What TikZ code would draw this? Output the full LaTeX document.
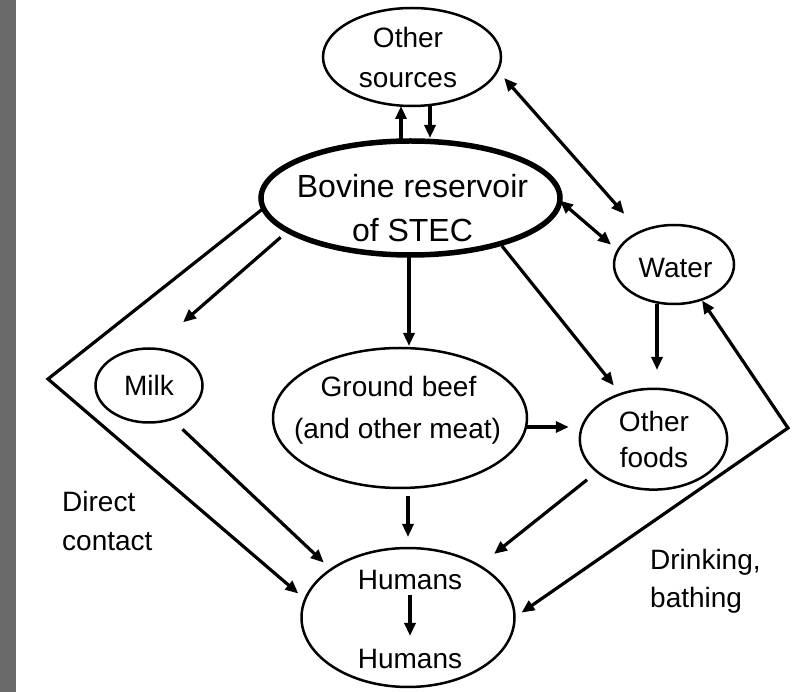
\documentclass[tikz,border=0pt]{standalone}
\usepackage{fontspec}
\setmainfont{Liberation Sans}
\usetikzlibrary{arrows.meta,shapes.geometric}
\definecolor{barcol}{RGB}{106,106,106}
\begin{document}
\begin{tikzpicture}[x=1pt,y=-1pt,
  ell/.style={ellipse, draw, line width=2.5pt, inner sep=0pt, outer sep=0pt},
  txt/.style={inner sep=0pt, font=\fontsize{28}{34}\selectfont, anchor=base},
  big/.style={inner sep=0pt, font=\fontsize{32}{38}\selectfont, anchor=base},
  tip/.tip={Triangle[length=13pt,width=11pt]},
  conn/.style={line width=3.2pt, -tip},
  conn2/.style={line width=3.2pt, tip-tip}]
\useasboundingbox (0,0) rectangle (796,692);
\fill[barcol] (0,0) rectangle (16,692);

% ellipses
\node[ell, minimum width=178pt, minimum height=98pt] (os) at (412,57) {};
\node[ell, line width=5.5pt, minimum width=299pt, minimum height=114pt] (bov) at (410.5,198) {};
\node[ell, minimum width=120pt, minimum height=79pt] (water) at (674,264.5) {};
\node[ell, minimum width=107pt, minimum height=74pt] (milk) at (149,385.5) {};
\node[ell, minimum width=254pt, minimum height=140pt] (gb) at (400,418) {};
\node[ell, minimum width=147.4pt, minimum height=100.8pt] (of) at (653.5,439.2) {};
\node[ell, minimum width=213pt, minimum height=139pt] (hum) at (408,617.5) {};

% texts
\node[txt] (ost1) at (408,48) {Other};
\node[txt] (ost2) at (408,88) {sources};
\node[big] (bt1) at (412.5,198) {Bovine reservoir};
\node[big] (bt2) at (412.5,242) {of STEC};
\node[txt] (wt) at (675.5,278) {Water};
\node[txt] (mt) at (149,396) {Milk};
\node[txt] (gt1) at (398.5,397) {Ground beef};
\node[txt] (gt2) at (397.5,439) {(and other meat)};
\node[txt] (oft1) at (654,432) {Other};
\node[txt] (oft2) at (654,468) {foods};
\node[txt] (hu1) at (410,590) {Humans};
\node[txt] (hu2) at (410,668) {Humans};
\node[txt, anchor=base west] (dct1) at (62,512) {Direct};
\node[txt, anchor=base west] (dct2) at (62,551) {contact};
\node[txt, anchor=base west] (drt1) at (650,570) {Drinking,};
\node[txt, anchor=base west] (drt2) at (650,608) {bathing};

\coordinate (dc) at (48,379);
\coordinate (dr) at (788,428);

% connectors
\draw[conn] ([xshift=-9.5pt]bov.north) -- ([xshift=-11pt]os.south);
\draw[conn, shorten >=3pt] ([xshift=18pt]os.south) -- ([xshift=19.5pt]bov.north);
\draw[conn2, shorten <=10pt, shorten >=24pt] (os.-9) -- (water.136);
\draw[conn2, shorten >=9pt] (bov.-1) -- (water.166);
\draw[conn, shorten <=10pt, shorten >=40pt] (bov.-165) -- (milk.84);
\draw[conn, shorten <=3pt, shorten >=11pt] (bov.-27.5) -- (of.126);
\draw[conn, shorten >=18.8pt] ([xshift=-17pt]water.south) -- ([xshift=-17pt]water.south |- of.north);
\draw[conn, shorten >=11pt] ([yshift=-9pt]gb.east) -- ([yshift=-9pt]gb.east -| of.west);
\draw[conn, shorten <=2pt, shorten >=2pt] ([xshift=-1.5pt]bov.south) -- ([xshift=9pt]gb.north);
\draw[conn, shorten <=8pt, shorten >=11pt] (gb.south -| hum.north) -- (hum.north);
\draw[conn, shorten <=13pt, shorten >=19pt] (of.-150.5) -- (hum.36);
\draw[conn, shorten <=15pt, shorten >=10pt] (milk.-56.5) -- (hum.148);
\draw[conn, shorten <=5pt, shorten >=12.6pt] (hu1.south) -- (hu2.north);
\draw[conn, shorten >=9pt] (bov.-176) -- (dc) -- (hum.170);
\draw[conn2, shorten <=1pt, shorten >=8.5pt] (water.-52) -- (dr) -- (hum.0);
\end{tikzpicture}
\end{document}
